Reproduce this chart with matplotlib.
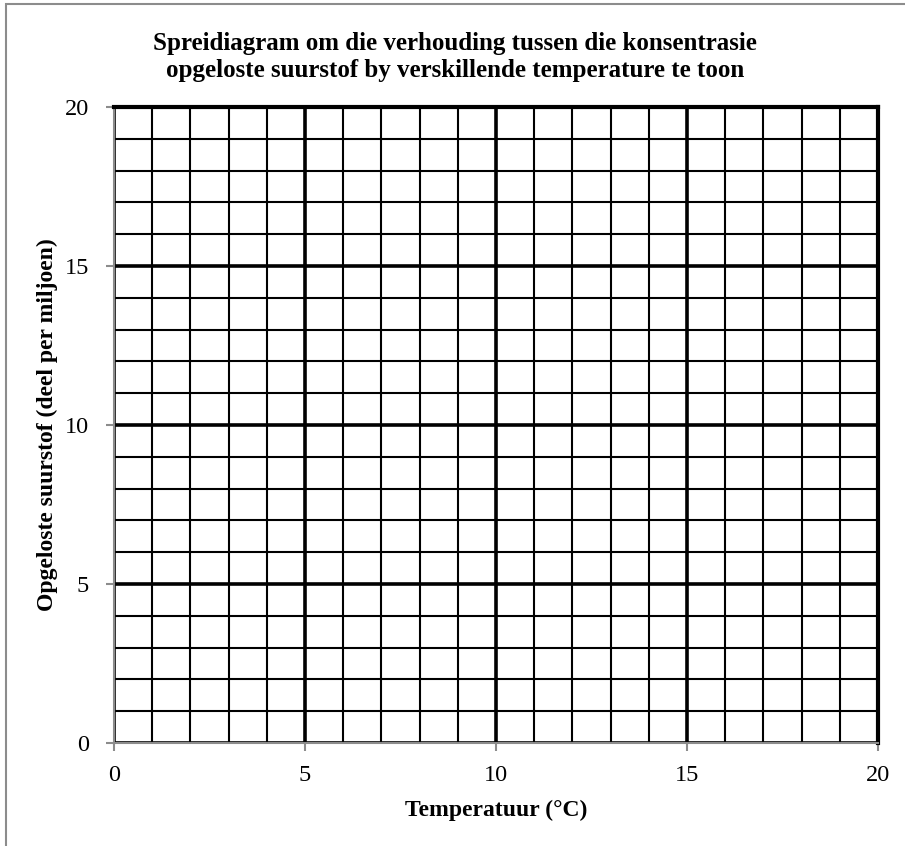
import numpy as np
import matplotlib.pyplot as plt
from matplotlib.patches import Rectangle

# empty graph paper: axis limits and tick spacing
x_range = [0, 20]
y_range = [0, 20]
major_ticks = [0, 5, 10, 15, 20]
minor_step = 1

title = 'Spreidiagram om die verhouding tussen die konsentrasie\nopgeloste suurstof by verskillende temperature te toon'
x_label = 'Temperatuur (°C)'
y_label = 'Opgeloste suurstof (deel per miljoen)'

plt.rcParams['font.family'] = ['Liberation Serif', 'DejaVu Serif']

fig = plt.figure(figsize=(9.05, 8.46), dpi=100)
ax = fig.add_axes([114/905, 1 - 743/846, (878 - 114)/905, (743 - 107)/846])

ax.set_xlim(x_range)
ax.set_ylim(y_range)
ax.set_xticks(major_ticks)
ax.set_yticks(major_ticks)
ax.set_xticks(np.arange(x_range[0], x_range[1] + minor_step, minor_step), minor=True)
ax.set_yticks(np.arange(y_range[0], y_range[1] + minor_step, minor_step), minor=True)

ax.grid(which='minor', color='black', lw=1.5, zorder=1)
ax.grid(which='major', color='black', lw=2.6, zorder=1)
ax.set_axisbelow(True)

ax.tick_params(which='major', direction='out', length=6, width=1.5, color='#8c8c8c',
               labelsize=17.5)
ax.tick_params(axis='x', pad=10)
ax.tick_params(axis='y', pad=12)
ax.tick_params(which='minor', length=0)

for s in ['top', 'right']:
    ax.spines[s].set_color('black')
    ax.spines[s].set_linewidth(3)
for s in ['left', 'bottom']:
    ax.spines[s].set_color('#8c8c8c')
    ax.spines[s].set_linewidth(1.5)

ax.set_xlabel(x_label, fontsize=17, fontweight='bold', labelpad=10)
ax.set_ylabel(y_label, fontsize=17, fontweight='bold', labelpad=5)

fig.text(0.5025, 1 - 57/846, title, ha='center', va='center', fontsize=18,
         fontweight='bold', linespacing=1.2)

# outer chart border (only top/left visible in the crop)
fig.patches.append(Rectangle((5.5/905, -0.1), 1.2, 1.1 - 4.5/846, transform=fig.transFigure,
                             fill=False, edgecolor='#8c8c8c', lw=1.5))

fig.savefig('out.png', dpi=100)
